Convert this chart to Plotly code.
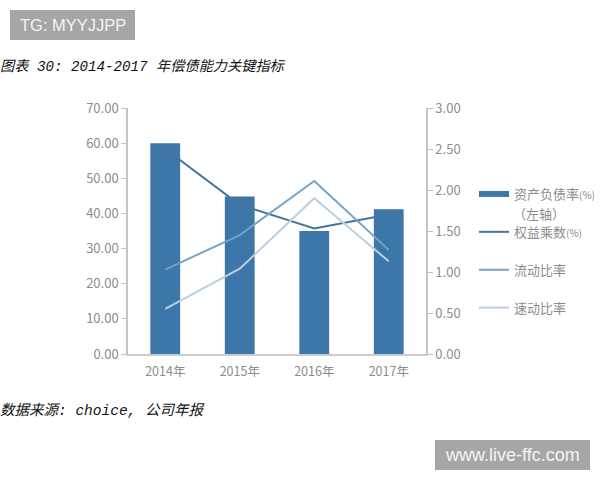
import plotly.graph_objects as go

years = ['2014年', '2015年', '2016年', '2017年']
debt_ratio = [60.0, 44.8, 35.0, 41.2]
equity_mult = [2.50, 1.82, 1.53, 1.70]
current_ratio = [1.03, 1.45, 2.11, 1.27]
quick_ratio = [0.55, 1.04, 1.90, 1.13]
left_ticks = [0, 10, 20, 30, 40, 50, 60, 70]
right_ticks = [0, 0.5, 1, 1.5, 2, 2.5, 3]

CJK = 'Noto Sans CJK SC'
ITALIC = 'Liberation Mono, Noto Sans CJK SC'
GREY = '#8c8c8c'
BAR = '#3d76a8'
AXIS = '#c4c4c4'
SMALL = '<span style="font-size:10px">(%)</span>'

L, T, PW, PH = 128, 108, 298, 246
def px(x): return (x - L) / PW
def py(y): return (T + PH - y) / PH

fig = go.Figure()
fig.add_trace(go.Bar(x=years, y=debt_ratio, width=0.4, showlegend=False,
                     marker=dict(color=BAR, line=dict(width=0))))
# line key for the bars, the legend's own bar swatch is only a small square
fig.add_trace(go.Scatter(x=years, y=[None] * 4, name='资产负债率' + SMALL, mode='lines',
                         line=dict(color=BAR, width=6), legendgroup='a'))
fig.add_trace(go.Scatter(x=years, y=equity_mult, name='权益乘数' + SMALL, yaxis='y2', mode='lines',
                         line=dict(color='#44749f', width=2), legendgroup='b'))
fig.add_trace(go.Scatter(x=years, y=current_ratio, name='流动比率', yaxis='y2', mode='lines',
                         line=dict(color='#74a3c9', width=2), legendgroup='c'))
fig.add_trace(go.Scatter(x=years, y=quick_ratio, name='速动比率', yaxis='y2', mode='lines',
                         line=dict(color='#bccfe0', width=2), legendgroup='d'))

fig.update_layout(
    annotations=[
        dict(xref='paper', yref='paper', x=px(-2), y=py(67), xanchor='left', yanchor='middle', showarrow=False,
             text='<i>图表 30: 2014-2017 年偿债能力关键指标</i>', font=dict(family=ITALIC, size=14.2, color='#111111')),
        dict(xref='paper', yref='paper', x=px(-2), y=py(410), xanchor='left', yanchor='middle', showarrow=False,
             text='<i>数据来源: choice, 公司年报</i>', font=dict(family=ITALIC, size=14.5, color='#111111')),
        dict(xref='paper', yref='paper', x=px(72.5), y=py(25), xanchor='center', yanchor='middle', showarrow=False,
             text='TG: MYYJJPP', font=dict(family='Liberation Sans', size=16.5, color='#f4f4f4')),
        dict(xref='paper', yref='paper', x=px(512.5), y=py(455), xanchor='center', yanchor='middle', showarrow=False,
             text='www.live-ffc.com', font=dict(family='Liberation Sans', size=18, color='#f4f4f4')),
        # second line of the first legend entry
        dict(xref='paper', yref='paper', x=px(539), y=py(213), xanchor='center', yanchor='middle', showarrow=False,
             text='（左轴）', font=dict(family=CJK, size=13, color=GREY)),
    ],
    shapes=[
        dict(type='rect', xref='paper', yref='paper', x0=px(10), x1=px(135), y0=py(40), y1=py(10),
             fillcolor='#a6a6a6', line_width=0, layer='below'),
        dict(type='rect', xref='paper', yref='paper', x0=px(435), x1=px(590), y0=py(470), y1=py(440),
             fillcolor='#a6a6a6', line_width=0, layer='below'),
    ],
    width=600, height=480,
    margin=dict(l=L, r=600 - L - PW, t=T, b=480 - T - PH, autoexpand=False),
    paper_bgcolor='white', plot_bgcolor='white',
    font=dict(family=CJK, color=GREY, size=13),
    legend=dict(x=px(474), y=py(179), xanchor='left', yanchor='top', tracegroupgap=18,
                font=dict(family=CJK, size=13, color=GREY), bgcolor='rgba(0,0,0,0)'),
    xaxis=dict(showline=True, linecolor='#cccccc', linewidth=1.5, ticks='outside', ticklen=5,
               tickcolor='rgba(0,0,0,0)', showgrid=False, tickfont=dict(size=12.5, color=GREY)),
    yaxis=dict(range=[0, 70], tickvals=left_ticks, tickformat='.2f', showgrid=False, zeroline=False,
               showline=True, linecolor=AXIS, linewidth=1.5, ticks='outside', ticklen=5,
               tickcolor=AXIS, tickfont=dict(size=13, color=GREY)),
    yaxis2=dict(range=[0, 3], tickvals=right_ticks, tickformat='.2f', overlaying='y', side='right',
                showgrid=False, zeroline=False, showline=True, linecolor=AXIS, linewidth=1.5,
                ticks='outside', ticklen=5, tickcolor=AXIS, tickfont=dict(size=13, color=GREY)),
)

# drop the browser's default body margin so the figure fills the window
fig.write_html('out.html', config=dict(displayModeBar=False),
               post_script="document.body.style.margin='0';")
